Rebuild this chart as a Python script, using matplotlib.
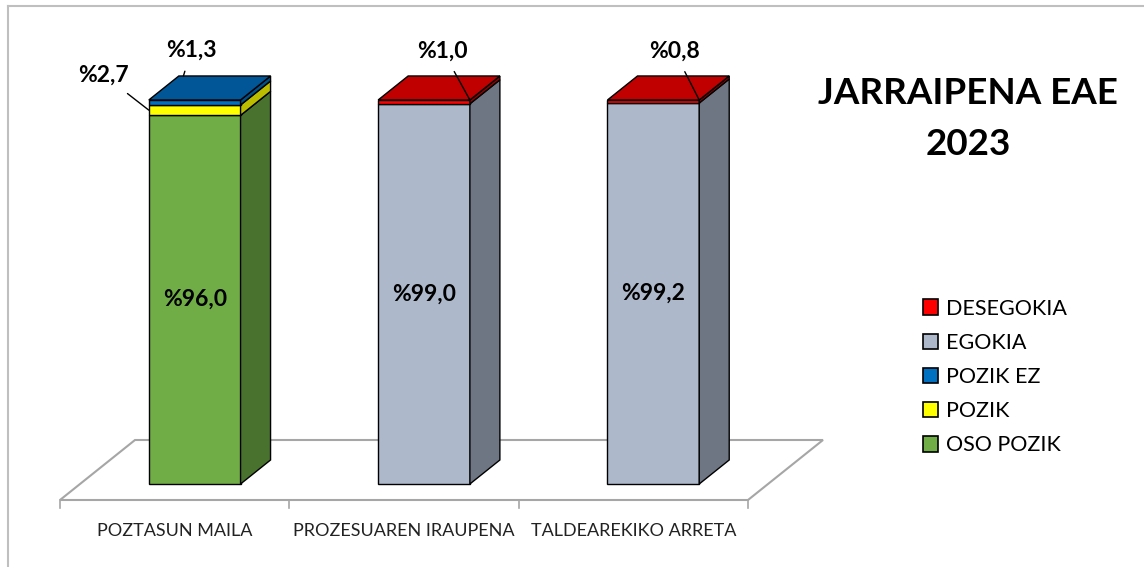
"""Jarraipena EAE 2023 - 3D style stacked columns."""

import matplotlib
matplotlib.use("Agg")
import matplotlib.pyplot as plt
from matplotlib.patches import Polygon, Patch
from matplotlib.lines import Line2D

plt.rcParams["font.family"] = ["Lato", "DejaVu Sans"]

categories = ["POZTASUN MAILA", "PROZESUAREN IRAUPENA", "TALDEAREKIKO ARRETA"]
series_names = ["OSO POZIK", "POZIK", "POZIK EZ", "EGOKIA", "DESEGOKIA"]
oso_pozik = [96.0, 0.0, 0.0]
pozik = [2.7, 0.0, 0.0]
pozik_ez = [1.3, 0.0, 0.0]
egokia = [0.0, 99.0, 99.2]
desegokia = [0.0, 1.0, 0.8]
series_values = [oso_pozik, pozik, pozik_ez, egokia, desegokia]

# front, side, top shades per series
colors = {
    "OSO POZIK": ("#70AD47", "#4A722F", "#5E9A38"),
    "POZIK": ("#FFFF00", "#BDBD00", "#E0E000"),
    "POZIK EZ": ("#0070C0", "#004F88", "#005696"),
    "EGOKIA": ("#ADB9CA", "#6E7684", "#8E99A8"),
    "DESEGOKIA": ("#FF0000", "#8F0000", "#C00000"),
}

# where the small value labels sit, in pixels from their leader end
small_label_offsets = {
    (0, "POZIK"): ("front_left", (-45, 35)),
    (0, "POZIK EZ"): ("top_back", (8, 26)),
    (1, "DESEGOKIA"): ("front_right", (-27, 49)),
    (2, "DESEGOKIA"): ("front_right", (-25, 49)),
}

# depth projection (data units per unit of depth)
KX = 0.327
KY = 15.625
D0, D1 = 0.267, 0.667
BAR_W = 0.4


def proj(x, y, d):
    return (x + KX * d, y + KY * d)


def fmt(v):
    return "%" + f"{v:.1f}".replace(".", ",")


fig = plt.figure(figsize=(11.44, 5.67), dpi=100)
ax = fig.add_axes([60 / 1144, 67 / 567, 688 / 1144, 384 / 567])
ax.set_xlim(0, 3)
ax.set_ylim(0, 100)
ax.axis("off")

# outer chart frame (cut by image edge on right/bottom)
fig.add_artist(Line2D([8 / 1144, 8 / 1144], [0, 561 / 567], color="#BFBFBF", lw=1.5))
fig.add_artist(Line2D([8 / 1144, 1], [561 / 567, 561 / 567], color="#BFBFBF", lw=1.5))

# floor
n = len(categories)
floor = [proj(0, 0, 0), proj(n, 0, 0), proj(n, 0, 1), proj(0, 0, 1)]
ax.add_patch(Polygon(floor, closed=True, facecolor="white", edgecolor="#A6A6A6",
                     lw=1.5, clip_on=False, zorder=1))
for i in range(n + 1):
    ax.plot([i, i], [0, -2.1], color="#A6A6A6", lw=1.2, clip_on=False, zorder=1)
for i, cat in enumerate(categories):
    ax.text(i + 0.5, -8.0, cat, ha="center", va="center", fontsize=13,
            color="#222222")

# bars
for i in range(n):
    x0 = i + 0.5 - BAR_W / 2
    x1 = i + 0.5 + BAR_W / 2
    bottom = 0.0
    stack = [(name, vals[i]) for name, vals in zip(series_names, series_values) if vals[i] > 0]
    for k, (name, v) in enumerate(stack):
        top = bottom + v
        front_c, side_c, top_c = colors[name]
        front = [proj(x0, bottom, D0), proj(x1, bottom, D0), proj(x1, top, D0), proj(x0, top, D0)]
        side = [proj(x1, bottom, D0), proj(x1, bottom, D1), proj(x1, top, D1), proj(x1, top, D0)]
        ax.add_patch(Polygon(front, facecolor=front_c, edgecolor="black", lw=1.0,
                             clip_on=False, zorder=3))
        ax.add_patch(Polygon(side, facecolor=side_c, edgecolor="black", lw=1.0,
                             clip_on=False, zorder=3))
        if k == len(stack) - 1:
            lid = [proj(x0, top, D0), proj(x1, top, D0), proj(x1, top, D1), proj(x0, top, D1)]
            ax.add_patch(Polygon(lid, facecolor=top_c, edgecolor="black", lw=1.0,
                                 clip_on=False, zorder=3))

        key = (i, name)
        if key in small_label_offsets:
            anchor, off = small_label_offsets[key]
            if anchor == "front_left":
                pt = proj(x0, (bottom + top) / 2, D0)
            elif anchor == "front_right":
                pt = proj(x1, top, D0)
            else:
                pt = proj(x0 + 0.02, top, D1)
            ax.annotate(fmt(v), xy=pt, xytext=off, textcoords="offset pixels",
                        ha="center", va="center", fontsize=16.5, fontweight="bold",
                        arrowprops=dict(arrowstyle="-", color="black", lw=1.0,
                                        shrinkA=6, shrinkB=0),
                        annotation_clip=False, zorder=5)
        else:
            cx, cy = proj((x0 + x1) / 2, (bottom + top) / 2, D0)
            ax.text(cx, cy, fmt(v), ha="center", va="center", fontsize=16.5,
                    fontweight="bold", zorder=5)
        bottom = top

# title
fig.text(968 / 1144, (567 - 119) / 567, "JARRAIPENA EAE\n2023", ha="center",
         va="center", fontsize=26.5, fontweight="bold", linespacing=1.7)

# legend (reverse order like the reference)
legend_colors = {"DESEGOKIA": "#FF0000", "EGOKIA": "#ADB9CA", "POZIK EZ": "#0070C0",
                 "POZIK": "#FFFF00", "OSO POZIK": "#70AD47"}
handles = [Patch(facecolor=legend_colors[s], edgecolor="black", lw=1.2)
           for s in reversed(series_names)]
fig.legend(handles, list(reversed(series_names)), loc="center left",
           bbox_to_anchor=(923 / 1144, (567 - 377) / 567), frameon=False,
           fontsize=15.5, handlelength=0.72, handleheight=0.72, handletextpad=0.37,
           labelspacing=0.66, borderpad=0, borderaxespad=0)

fig.savefig("out.png", dpi=100)
